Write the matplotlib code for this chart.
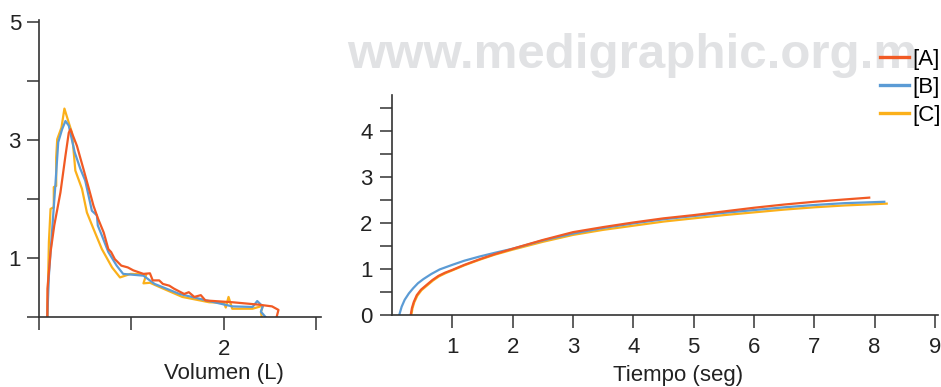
import matplotlib
matplotlib.use("Agg")
import matplotlib.pyplot as plt
from matplotlib import font_manager
from matplotlib.ticker import MultipleLocator

# flow-volume curves (left panel)
vol_a = [0.09, 0.092, 0.125, 0.165, 0.232, 0.286, 0.322, 0.34, 0.41, 0.48,
         0.54, 0.59, 0.64, 0.70, 0.75, 0.78, 0.82, 0.89, 0.96, 1.02,
         1.13, 1.20, 1.23, 1.30, 1.34, 1.41, 1.46, 1.57, 1.62, 1.68,
         1.75, 1.80, 2.09, 2.37, 2.52, 2.59, 2.57]
flow_a = [0, 0.48, 1.10, 1.55, 2.11, 2.73, 3.12, 3.18, 2.90, 2.51,
          2.17, 1.88, 1.66, 1.43, 1.15, 1.10, 0.98, 0.87, 0.84, 0.79,
          0.73, 0.74, 0.62, 0.62, 0.56, 0.53, 0.48, 0.39, 0.42, 0.34,
          0.37, 0.28, 0.25, 0.21, 0.18, 0.12, 0]

vol_b = [0.09, 0.107, 0.143, 0.179, 0.208, 0.25, 0.286, 0.322, 0.386, 0.447,
         0.50, 0.572, 0.626, 0.636, 0.68, 0.75, 0.84, 0.91, 1.13, 1.25,
         1.52, 1.84, 2.09, 2.31, 2.36, 2.42, 2.40, 2.45]
flow_b = [0, 0.70, 1.49, 2.28, 2.96, 3.18, 3.32, 3.24, 2.79, 2.51,
          2.31, 1.80, 1.72, 1.55, 1.38, 1.10, 0.87, 0.73, 0.70, 0.56,
          0.39, 0.27, 0.18, 0.17, 0.27, 0.18, 0.09, 0]

vol_c = [0.09, 0.107, 0.125, 0.16, 0.16, 0.186, 0.186, 0.197, 0.243, 0.275,
         0.322, 0.357, 0.393, 0.465, 0.518, 0.59, 0.68, 0.79, 0.876, 0.99,
         1.16, 1.13, 1.20, 1.30, 1.55, 1.84, 2.00, 2.02, 2.05, 2.09,
         2.31, 2.42, 2.40, 2.41]
flow_c = [0, 1.27, 1.83, 1.86, 2.20, 2.22, 2.70, 3.01, 3.21, 3.53,
          3.29, 3.12, 2.48, 2.17, 1.77, 1.49, 1.15, 0.84, 0.67, 0.73,
          0.72, 0.57, 0.58, 0.51, 0.34, 0.25, 0.24, 0.16, 0.34, 0.14,
          0.14, 0.19, 0.08, 0]

# volume-time curves (right panel)
t_a = [0.31, 0.33, 0.36, 0.41, 0.48, 0.57, 0.67, 0.77, 0.88, 1.0, 1.2, 1.45, 1.7,
       2.0, 2.5, 3.0, 3.5, 4.0, 4.5, 5.0, 5.5, 6.0, 6.5, 7.0, 7.5, 7.91]
v_a = [0, 0.15, 0.28, 0.43, 0.55, 0.65, 0.76, 0.85, 0.92, 0.98, 1.09, 1.21, 1.32,
       1.44, 1.63, 1.80, 1.91, 2.01, 2.10, 2.17, 2.25, 2.33, 2.40, 2.46, 2.51, 2.55]

t_b = [0.12, 0.16, 0.21, 0.28, 0.35, 0.43, 0.52, 0.65, 0.79, 1.0, 1.2, 1.45, 1.7,
       2.0, 2.5, 3.0, 3.5, 4.0, 4.5, 5.0, 5.5, 6.0, 6.5, 7.0, 7.5, 8.16]
v_b = [0, 0.18, 0.33, 0.47, 0.58, 0.69, 0.78, 0.89, 0.99, 1.09, 1.18, 1.27, 1.35,
       1.44, 1.62, 1.77, 1.89, 1.99, 2.08, 2.15, 2.22, 2.28, 2.34, 2.39, 2.43, 2.46]

t_c = [0.32, 0.34, 0.37, 0.42, 0.49, 0.58, 0.68, 0.78, 0.89, 1.0, 1.2, 1.45, 1.7,
       2.0, 2.5, 3.0, 3.5, 4.0, 4.5, 5.0, 5.5, 6.0, 6.5, 7.0, 7.5, 8.2]
v_c = [0, 0.15, 0.28, 0.42, 0.54, 0.64, 0.75, 0.84, 0.91, 0.97, 1.08, 1.20, 1.31,
       1.42, 1.59, 1.74, 1.85, 1.94, 2.03, 2.10, 2.17, 2.23, 2.29, 2.34, 2.38, 2.42]

labels = ["[A]", "[B]", "[C]"]
colors = ["#f15a24", "#5b9bd5", "#fbb01a"]

installed = {f.name for f in font_manager.fontManager.ttflist}
narrow = "Liberation Sans Narrow" if "Liberation Sans Narrow" in installed else "Liberation Sans"
plt.rcParams["font.family"] = [narrow, "DejaVu Sans"]

W, H = 941, 387
fig = plt.figure(figsize=(W / 100, H / 100), dpi=100)

# watermark
fig.text(347 / W, 1 - 68 / H, "www.medigraphic.org.m", fontsize=35.5,
         fontweight="bold", color="#e1e2e4", va="baseline", ha="left", zorder=0)

spine_c = "#333333"


def style(ax):
    for s in ["top", "right"]:
        ax.spines[s].set_visible(False)
    for s in ["left", "bottom"]:
        ax.spines[s].set_color(spine_c)
        ax.spines[s].set_linewidth(1.2)
    ax.tick_params(which="both", direction="out", length=9, width=1.1,
                   color=spine_c, labelsize=16, labelcolor="#222222")
    ax.patch.set_alpha(0)


# left: flow-volume
ax1 = fig.add_axes([39 / W, 1 - 317 / H, (321 - 39) / W, (317 - 20) / H])
style(ax1)
ax1.plot(vol_c, flow_c, color=colors[2], lw=1.6)
ax1.plot(vol_b, flow_b, color=colors[1], lw=1.6)
ax1.plot(vol_a, flow_a, color=colors[0], lw=1.6)
ax1.set_xlim(0, 3.05)
ax1.set_ylim(0, 5.03)
ax1.set_xticks([0, 1, 2, 3])
ax1.set_xticklabels(["", "", "2", ""])
ax1.set_yticks([1, 3, 5])
ax1.yaxis.set_minor_locator(MultipleLocator(1))
ax1.tick_params(axis="y", which="both", pad=4)
ax1.tick_params(axis="x", pad=7)
ax1.set_xlabel("Volumen (L)", fontsize=16, color="#222222")
ax1.xaxis.set_label_coords((224 - 39) / (321 - 39), -0.155)

# right: volume-time
ax2 = fig.add_axes([392 / W, 1 - 315 / H, (938 - 392) / W, (315 - 95) / H])
style(ax2)
ax2.plot(t_c, v_c, color=colors[2], lw=1.6, label=labels[2])
ax2.plot(t_b, v_b, color=colors[1], lw=1.6, label=labels[1])
ax2.plot(t_a, v_a, color=colors[0], lw=1.6, label=labels[0])
ax2.set_xlim(0, 9.05)
ax2.set_ylim(0, 4.78)
ax2.set_xticks(range(1, 10))
ax2.set_yticks(range(0, 5))
ax2.yaxis.set_minor_locator(MultipleLocator(0.5))
ax2.tick_params(axis="y", which="both", pad=5)
ax2.tick_params(axis="x", pad=7)
ax2.set_xlabel("Tiempo (seg)", fontsize=16, color="#222222")
ax2.xaxis.set_label_coords((678 - 392) / (938 - 392), -0.225)

handles, labs = ax2.get_legend_handles_labels()
leg = fig.legend(handles[::-1], labs[::-1], loc="upper right",
                 bbox_to_anchor=(1.0, 1 - 49 / H), frameon=False, fontsize=16,
                 handlelength=1.3, handletextpad=0.15, labelspacing=0.32,
                 borderpad=0, borderaxespad=0)
for line in leg.get_lines():
    line.set_linewidth(2.4)

fig.savefig("out.png", dpi=100)
